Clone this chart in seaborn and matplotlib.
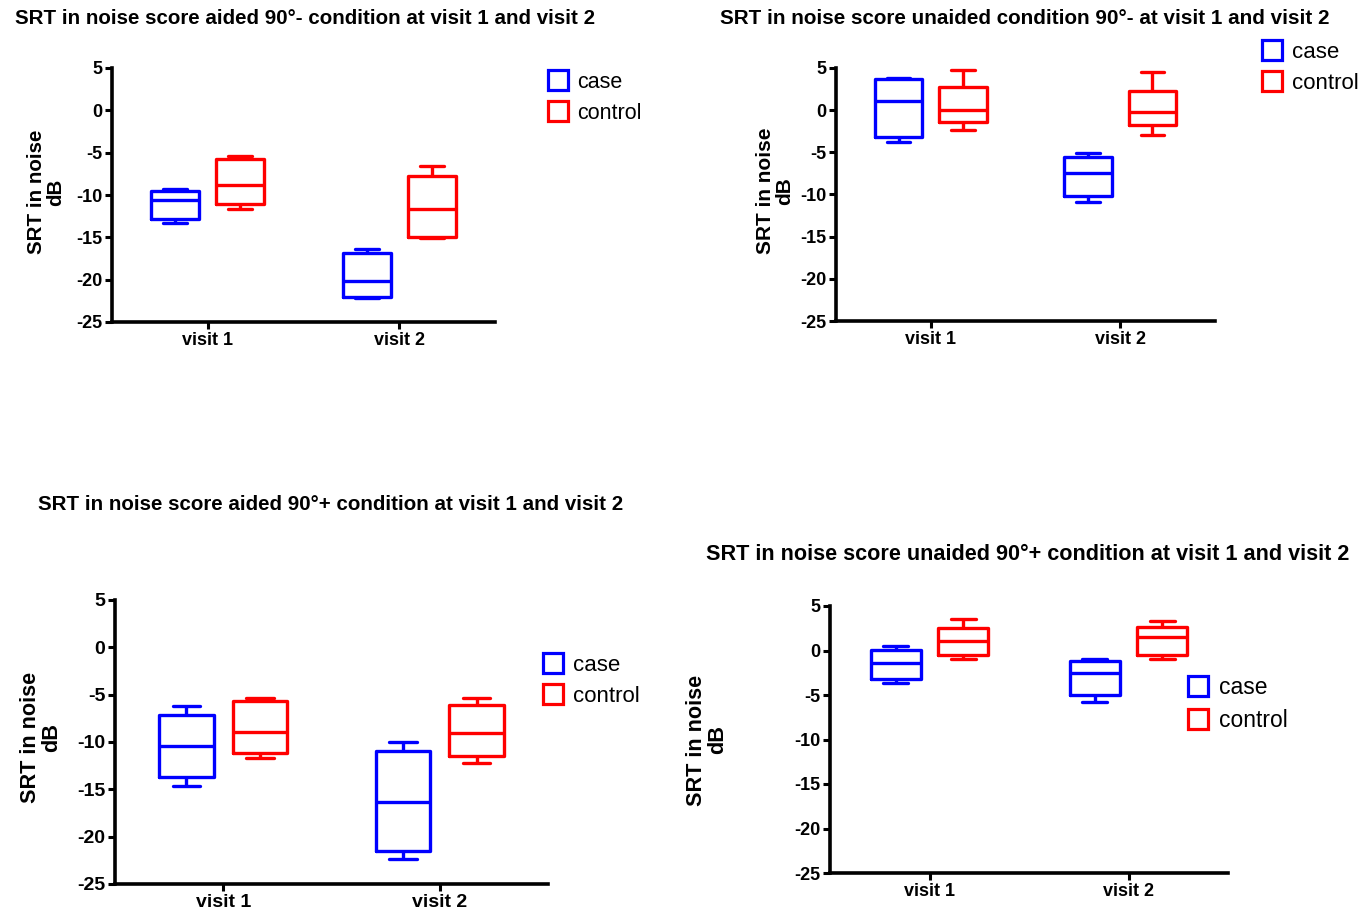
import numpy as np
import pandas as pd
import matplotlib
matplotlib.use("Agg")
import matplotlib.pyplot as plt
from matplotlib.lines import Line2D
import seaborn as sns

# Five-number summaries (whisker low, Q1, median, Q3, whisker high) per visit and group
visits = ["visit 1", "visit 2"]
groups = ["case", "control"]

aided_minus_case = [[-13.3, -12.8, -10.6, -9.5, -9.3], [-22.2, -22.0, -20.1, -16.8, -16.4]]
aided_minus_control = [[-11.7, -11.1, -8.8, -5.8, -5.4], [-15.1, -15.0, -11.6, -7.7, -6.6]]

unaided_minus_case = [[-3.8, -3.2, 1.1, 3.7, 3.8], [-10.9, -10.2, -7.4, -5.5, -5.1]]
unaided_minus_control = [[-2.4, -1.4, 0.0, 2.8, 4.8], [-2.9, -1.8, -0.2, 2.3, 4.5]]

aided_plus_case = [[-14.7, -13.7, -10.4, -7.1, -6.2], [-22.4, -21.5, -16.3, -10.9, -10.0]]
aided_plus_control = [[-11.7, -11.2, -8.9, -5.7, -5.4], [-12.2, -11.5, -9.1, -6.1, -5.4]]

unaided_plus_case = [[-3.65, -3.2, -1.4, 0.1, 0.5], [-5.8, -5.05, -2.5, -1.2, -0.9]]
unaided_plus_control = [[-0.95, -0.45, 1.05, 2.5, 3.5], [-0.9, -0.45, 1.5, 2.6, 3.3]]

titles = [
    "SRT in noise score aided 90°- condition at visit 1 and visit 2",
    "SRT in noise score unaided condition 90°- at visit 1 and visit 2",
    "SRT in noise score aided 90°+ condition at visit 1 and visit 2",
    "SRT in noise score unaided 90°+ condition at visit 1 and visit 2",
]
y_label = "SRT in noise\ndB"
y_ticks = [5, 0, -5, -10, -15, -20, -25]

palette = {"case": "#0000ff", "control": "#ff0000"}

sns.set_style("ticks")
plt.rcParams["font.family"] = ["Liberation Sans", "DejaVu Sans"]
plt.rcParams["axes.unicode_minus"] = False
plt.rcParams["text.color"] = "black"
plt.rcParams["xtick.color"] = "black"
plt.rcParams["ytick.color"] = "black"
plt.rcParams["axes.labelcolor"] = "black"

W, H = 1364, 918
fig = plt.figure(figsize=(W / 100, H / 100), dpi=100)


def make_frame(case_vals, control_vals):
    rows = []
    for vi, visit in enumerate(visits):
        for grp, vals in (("case", case_vals), ("control", control_vals)):
            for v in vals[vi]:
                rows.append({"visit": visit, "group": grp, "SRT": v})
    return pd.DataFrame(rows)


def add_axes_px(left, right, top, bottom):
    return fig.add_axes([left / W, 1 - bottom / H, (right - left) / W, (bottom - top) / H])


panels = [
    dict(case=aided_minus_case, control=aided_minus_control, box=(112, 495, 68, 322),
         title=titles[0], title_xy=(15, 19), title_fs=14.8, tick_fs=13,
         ylab_xy=(46, 192), ylab_fs=14.8, legend_xy=(547, 72), legend_fs=15.5),
    dict(case=unaided_minus_case, control=unaided_minus_control, box=(836, 1215, 68, 321),
         title=titles[1], title_xy=(720, 19), title_fs=14.9, tick_fs=13,
         ylab_xy=(775, 191), ylab_fs=15.0, legend_xy=(1261, 42), legend_fs=16),
    dict(case=aided_plus_case, control=aided_plus_control, box=(115, 548, 600, 884),
         title=titles[2], title_xy=(38, 505), title_fs=14.8, tick_fs=14,
         ylab_xy=(41, 737), ylab_fs=15.6, legend_xy=(542, 655), legend_fs=16),
    dict(case=unaided_plus_case, control=unaided_plus_control, box=(830, 1228, 606, 873),
         title=titles[3], title_xy=(706, 555), title_fs=15.6, tick_fs=13,
         ylab_xy=(707, 740), ylab_fs=15.6, legend_xy=(1187, 676), legend_fs=16.5),
]

for p in panels:
    ax = add_axes_px(*p["box"])
    df = make_frame(p["case"], p["control"])
    sns.boxplot(data=df, x="visit", y="SRT", hue="group", order=visits, hue_order=groups,
                palette=palette, whis=(0, 100), fill=False, width=0.68, gap=0.26,
                linewidth=2.4, showfliers=False, legend=False, ax=ax)
    ax.set_xlim(-0.5, 1.5)
    ax.set_ylim(-25, 5)
    ax.set_yticks(y_ticks)
    ax.set_xlabel("")
    ax.set_ylabel("")
    for side in ("top", "right"):
        ax.spines[side].set_visible(False)
    for side in ("left", "bottom"):
        ax.spines[side].set_linewidth(2.6)
        ax.spines[side].set_color("black")
    ax.tick_params(axis="both", length=5, width=2.2, color="black", labelcolor="black", pad=2)
    for lab in ax.get_xticklabels() + ax.get_yticklabels():
        lab.set_fontweight("bold")
        lab.set_fontsize(p["tick_fs"])
    ax.patch.set_alpha(0)

    fig.text(p["title_xy"][0] / W, 1 - p["title_xy"][1] / H, p["title"],
             ha="left", va="center", fontsize=p["title_fs"], fontweight="bold")
    fig.text(p["ylab_xy"][0] / W, 1 - p["ylab_xy"][1] / H, y_label, rotation=90,
             ha="center", va="center", multialignment="center",
             fontsize=p["ylab_fs"], fontweight="bold", linespacing=1.0)

    handles = [Line2D([], [], linestyle="none", marker="s", markersize=14.5,
                      markerfacecolor="white", markeredgecolor=palette[g],
                      markeredgewidth=2.3, label=g) for g in groups]
    fig.legend(handles=handles, loc="upper left",
               bbox_to_anchor=(p["legend_xy"][0] / W, 1 - p["legend_xy"][1] / H),
               frameon=False, fontsize=p["legend_fs"], handlelength=1.0, handletextpad=0.4,
               labelspacing=0.45, borderpad=0, borderaxespad=0)

fig.savefig("out.png", dpi=100, facecolor="white")
